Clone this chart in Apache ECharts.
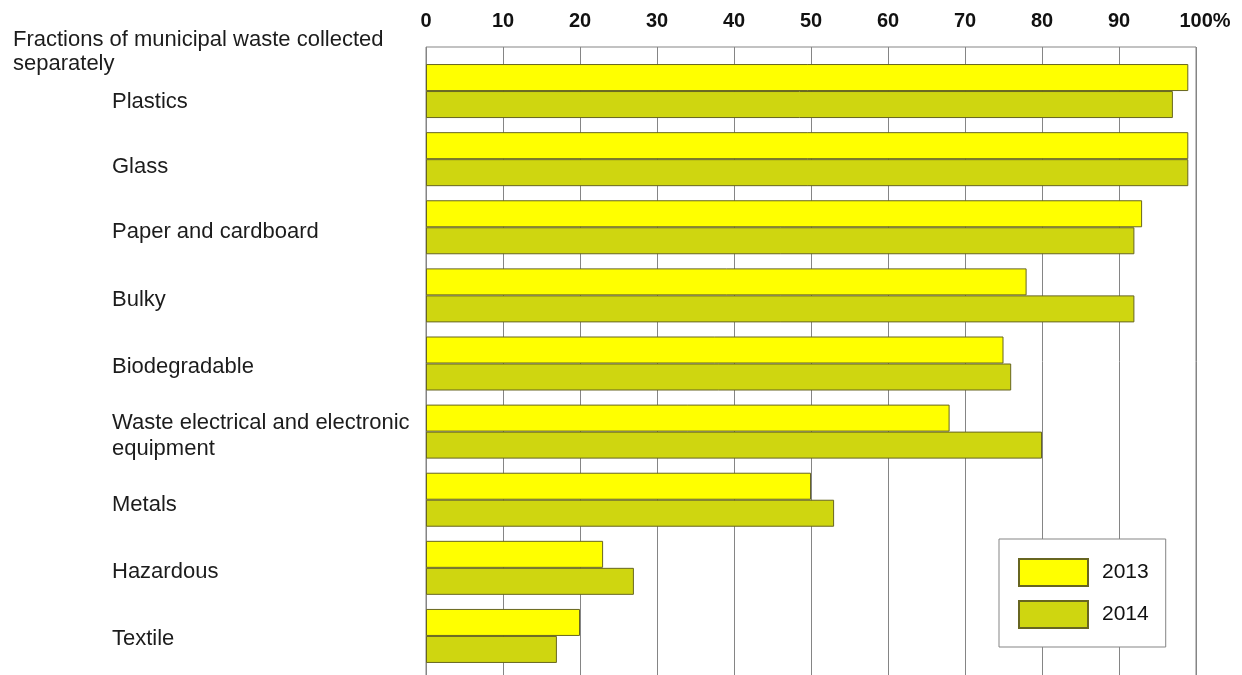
<!DOCTYPE html>
<html>
<head>
<meta charset="utf-8">
<script src="https://cdn.jsdelivr.net/npm/echarts@6/dist/echarts.min.js"></script>
<style>
  html, body { margin: 0; padding: 0; background: #fff; }
  #chart { width: 1242px; height: 675px; }
</style>
</head>
<body>
<div id="chart"></div>
<script>
// Share of each municipal waste fraction collected separately (%)
const categories = [
  'Plastics',
  'Glass',
  'Paper and cardboard',
  'Bulky',
  'Biodegradable',
  'Waste electrical and electronic\nequipment',
  'Metals',
  'Hazardous',
  'Textile'
];
const years = ['2013', '2014'];
const values2013 = [99, 99, 93, 78, 75, 68, 50, 23, 20];
const values2014 = [97, 99, 92, 92, 76, 80, 53, 27, 17];
const tickMax = 100;
const tickStep = 10;

const FONT = '"Liberation Sans", Arial, Helvetica, sans-serif';
const GRID_COLOR = '#858585';
const BAR_BORDER = '#676520';
const TEXT_COLOR = '#1c1c1c';

// downward nudges (px) for the category captions, top to bottom
const captionNudge = [11, 8, 5, 5, 3, 5, 5, 4, 3];
// extra top padding on continuation lines of two-line captions
const continuationGap = 8;
const captionRich = {};
captionNudge.forEach((d, i) => {
  captionRich['c' + i] = {
    fontFamily: FONT, fontSize: 22, lineHeight: 27, color: TEXT_COLOR,
    padding: [d * 2, 0, 0, 0]
  };
});
captionRich.cont = {
  fontFamily: FONT, fontSize: 22, lineHeight: 27, color: TEXT_COLOR,
  padding: [continuationGap, 0, 0, 0]
};

function captionFormatter(value, index) {
  const lines = String(value).split('\n');
  return lines.map((ln, k) => '{' + (k === 0 ? 'c' + index : 'cont') + '|' + ln + '}').join('\n');
}

const chart = echarts.init(document.getElementById('chart'), null, { renderer: 'canvas' });

chart.setOption({
  backgroundColor: '#ffffff',
  animation: false,
  textStyle: { fontFamily: FONT },
  title: {
    text: 'Fractions of municipal waste collected\nseparately',
    left: 8,
    top: 23,
    textStyle: { fontFamily: FONT, fontSize: 22, fontWeight: 'normal', color: TEXT_COLOR, lineHeight: 24 }
  },
  legend: {
    data: years,
    orient: 'vertical',
    left: 999,
    top: 539,
    padding: [19, 17, 18, 19],
    itemWidth: 69,
    itemHeight: 27,
    itemGap: 13,
    icon: 'rect',
    backgroundColor: '#ffffff',
    borderColor: GRID_COLOR,
    borderWidth: 1,
    textStyle: { fontFamily: FONT, fontSize: 21, color: '#111', padding: [0, 0, 0, 9] }
  },
  grid: [
    // plotting area for the bars
    { left: 426, right: 46, top: 57, bottom: 5, containLabel: false, outerBoundsMode: 'none' },
    // frame with the percentage scale and vertical rules
    { left: 426, right: 46, top: 47, bottom: -3, containLabel: false, outerBoundsMode: 'none',
      show: true, borderColor: GRID_COLOR, borderWidth: 1, backgroundColor: 'transparent' }
  ],
  xAxis: [
    { gridIndex: 0, type: 'value', min: 0, max: tickMax, interval: tickStep, show: false },
    {
      gridIndex: 1, type: 'value', position: 'top', min: 0, max: tickMax, interval: tickStep,
      axisLine: { show: false },
      axisTick: { show: false },
      splitLine: { show: true, lineStyle: { color: GRID_COLOR, width: 1 } },
      axisLabel: {
        margin: 16,
        fontFamily: FONT,
        fontSize: 20,
        fontWeight: 'bold',
        color: '#111',
        formatter: v => (v === tickMax ? '{pct|' + v + '%}' : String(v)),
        rich: {
          // keep the number itself centred on its rule, the % sign hangs to the right
          pct: { fontFamily: FONT, fontSize: 20, fontWeight: 'bold', color: '#111', padding: [0, 0, 0, 18] }
        }
      }
    }
  ],
  yAxis: [
    {
      gridIndex: 0, type: 'category', data: categories, inverse: true,
      axisLine: { show: false },
      axisTick: { show: false },
      splitLine: { show: false },
      axisLabel: {
        align: 'left',
        margin: 314,
        fontFamily: FONT,
        fontSize: 22,
        lineHeight: 27,
        color: TEXT_COLOR,
        formatter: captionFormatter,
        rich: captionRich
      }
    },
    { gridIndex: 1, type: 'value', show: false }
  ],
  series: [
    {
      name: years[0], type: 'bar', xAxisIndex: 0, yAxisIndex: 0,
      data: values2013, barWidth: 27, barGap: '0%',
      itemStyle: { color: '#FFFF00', borderColor: BAR_BORDER, borderWidth: 1 }
    },
    {
      name: years[1], type: 'bar', xAxisIndex: 0, yAxisIndex: 0,
      data: values2014, barWidth: 27, barGap: '0%',
      itemStyle: { color: '#CFD610', borderColor: BAR_BORDER, borderWidth: 1 }
    }
  ]
});
</script>
</body>
</html>
